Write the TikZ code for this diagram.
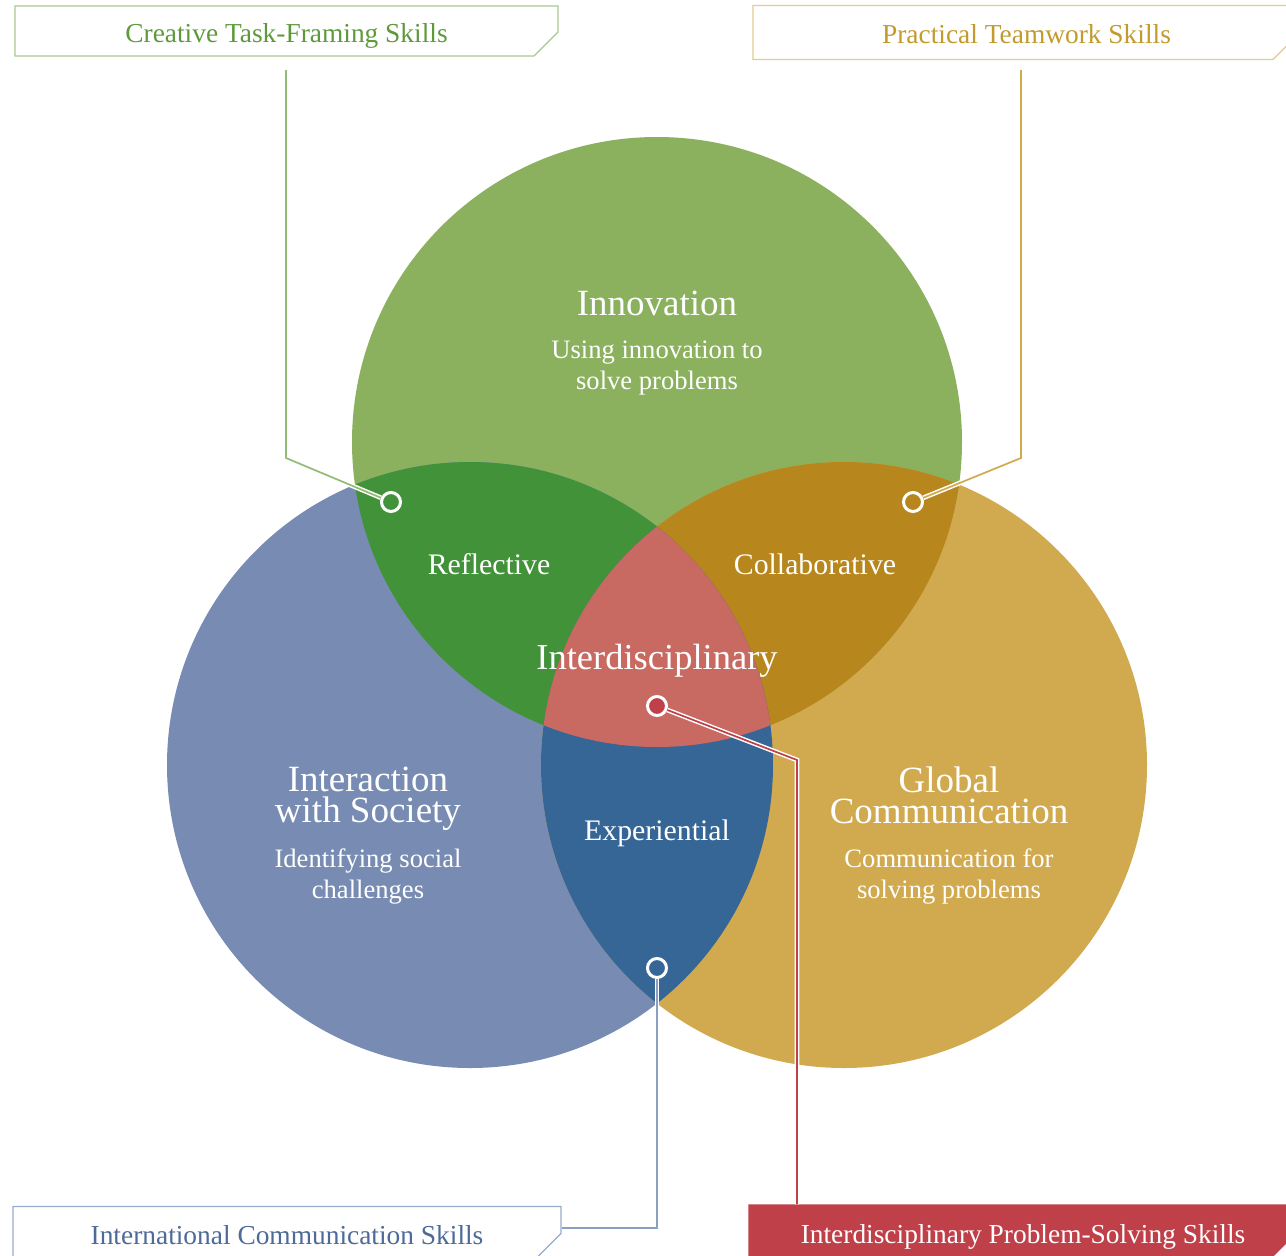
\documentclass[tikz,border=0pt]{standalone}
\usepackage{fontspec}
\setmainfont{Liberation Serif}
\usetikzlibrary{shapes.misc}

\definecolor{innogreen}{HTML}{8BB15E}
\definecolor{socblue}{HTML}{788CB3}
\definecolor{globgold}{HTML}{D1AA50}
\definecolor{reflgreen}{HTML}{42923A}
\definecolor{collgold}{HTML}{B7861C}
\definecolor{expblue}{HTML}{366695}
\definecolor{interred}{HTML}{C86962}
\definecolor{boxred}{HTML}{C0404A}
\definecolor{txtgreen}{HTML}{5E9A3C}
\definecolor{txtgold}{HTML}{C39A2C}
\definecolor{txtblue}{HTML}{4D6A98}
\definecolor{rimgreen}{HTML}{A9C98F}
\definecolor{rimgold}{HTML}{E2CC8E}
\definecolor{rimblue}{HTML}{98ADCB}

\tikzset{
  skillbox/.style={chamfered rectangle, chamfered rectangle corners=south east,
    chamfered rectangle xsep=14pt, chamfered rectangle ysep=14pt,
    minimum height=48pt, inner sep=0pt, line width=1.2pt,
    text height=24pt, text depth=2pt,
    font=\fontsize{27.4}{27}\selectfont},
  marker/.style={circle, draw=white, line width=3pt, minimum size=19pt, inner sep=0pt},
  link/.style={draw=white, line width=1.5pt, double=#1, double distance=1.7pt},
  title/.style={text=white, align=center, font=\fontsize{37}{31}\selectfont},
  sub/.style={text=white, align=center, font=\fontsize{26.6}{31}\selectfont},
  region/.style={text=white, font=\fontsize{29.8}{30}\selectfont}
}

\begin{document}
\begin{tikzpicture}[x=1pt,y=-1pt]
  \fill[white] (0,0) rectangle (1286,1256);
  \useasboundingbox (0,0) rectangle (1286,1256);

  % circle centres
  \coordinate (inno) at (657,442);
  \coordinate (soc)  at (470,765);
  \coordinate (glob) at (844,765);

  % the three circles
  \fill[innogreen] (inno) circle[radius=305pt];
  \fill[socblue]   (soc)  circle[radius=303pt];
  \fill[globgold]  (glob) circle[radius=303pt];

  % pairwise overlaps
  \begin{scope}
    \clip (inno) circle[radius=305pt];
    \fill[reflgreen] (soc)  circle[radius=303pt];
    \fill[collgold]  (glob) circle[radius=303pt];
  \end{scope}
  \begin{scope}
    \clip (soc) circle[radius=303pt];
    \fill[expblue] (glob) circle[radius=303pt];
  \end{scope}
  % centre overlap
  \begin{scope}
    \clip (inno) circle[radius=305pt];
    \clip (soc)  circle[radius=303pt];
    \fill[interred] (glob) circle[radius=303pt];
  \end{scope}

  % circle texts
  \node[title] (innot) at (657,303) {Innovation};
  \node[sub]   (innos) at (657,368.5) {Using innovation to\\solve problems};
  \node[title] (soct)  at (368,799) {Interaction\\with Society};
  \node[sub]   (socs)  at (368,876) {Identifying social\\challenges};
  \node[title] (globt) at (949,795) {Global\\Communication};
  \node[sub]   (globs) at (949,876) {Communication for\\solving problems};

  \node[region] (refl)  at (489,564) {Reflective};
  \node[region] (coll)  at (815,564) {Collaborative};
  \node[region, font=\fontsize{36.5}{36}\selectfont] (inter) at (657,661) {Interdisciplinary};
  \node[region] (exp)   at (657,833) {Experiential};

  % skill boxes
  \node[skillbox, draw=rimgreen, text=txtgreen, minimum width=543pt, chamfered rectangle xsep=12pt, chamfered rectangle ysep=12pt] (ctfbox) at (286.5,31) {Creative Task-Framing Skills};
  \node[skillbox, draw=rimgold, text=txtgold, minimum width=547pt] (ptsbox) at (1026.5,32.5) {Practical Teamwork Skills};
  \node[skillbox, draw=rimblue, text=txtblue, minimum width=548pt, minimum height=51pt] (icsbox) at (287,1233.5) {International Communication Skills};
  \node[skillbox, fill=boxred, draw=boxred, text=white, minimum width=548pt] (ipsbox) at (1023,1232) {Interdisciplinary Problem-Solving Skills};

  % markers
  \node[marker, fill=reflgreen] (mrefl)  at (391,502) {};
  \node[marker, fill=collgold]  (mcoll)  at (913,502) {};
  \node[marker, fill=boxred]    (minter) at (657,706) {};
  \node[marker, fill=expblue]   (mexp)   at (657,968) {};

  % connectors
  \coordinate (reflbend) at (286,458);
  \coordinate (refltop)  at (286,70);
  \coordinate (collbend) at (1021,458);
  \coordinate (colltop)  at (1021,70);
  \coordinate (interbend) at (797,760);
  \coordinate (expbend) at (657,1228);

  \path[link=rimgreen!70!txtgreen] (mrefl) -- (reflbend) -- (refltop);
  \path[link=globgold]  (mcoll) -- (collbend) -- (colltop);
  \path[link=boxred]    (minter) -- (interbend) -- (interbend |- ipsbox.north);
  \path[link=rimblue!80!txtblue] (mexp) -- (expbend) -- (expbend -| icsbox.east);
\end{tikzpicture}
\end{document}
